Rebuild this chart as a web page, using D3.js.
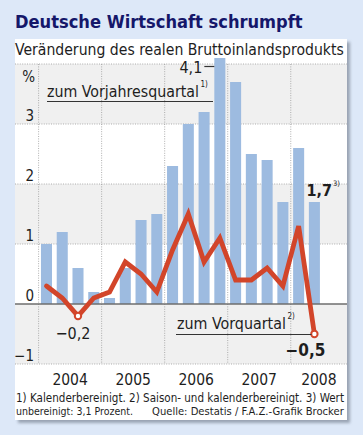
<!DOCTYPE html>
<html>
<head>
<meta charset="utf-8">
<script src="https://cdn.jsdelivr.net/npm/d3@7"></script>
<style>
  body { margin: 0; background: #dde8f8; }
  svg { display: block; }
  text { font-family: "Liberation Sans Narrow", "DejaVu Sans Condensed", "Open Sans", sans-serif; fill: #1e1e1e; }
</style>
</head>
<body>
<div id="chart"></div>
<script>
/*------------------------------------------*/
/*            Data                          */
/*------------------------------------------*/

var quarters = ["2004-1", "2004-2", "2004-3", "2004-4",
                "2005-1", "2005-2", "2005-3", "2005-4",
                "2006-1", "2006-2", "2006-3", "2006-4",
                "2007-1", "2007-2", "2007-3", "2007-4",
                "2008-1", "2008-2"];

// zum Vorjahresquartal (bars)
var vorjahr = [1.0, 1.2, 0.6, 0.2, 0.1, 0.6, 1.4, 1.5, 2.3, 3.0, 3.2, 4.1,
               3.7, 2.5, 2.4, 1.7, 2.6, 1.7];

// zum Vorquartal (line)
var vorquartal = [0.3, 0.1, -0.2, 0.1, 0.2, 0.7, 0.5, 0.2, 0.9, 1.5, 0.7, 1.1,
                  0.4, 0.4, 0.6, 0.3, 1.3, -0.5];

var years = ["2004", "2005", "2006", "2007", "2008"];

var yTicks = [-1, 0, 1, 2, 3];

/*------------------------------------------*/
/*            Constants                     */
/*------------------------------------------*/

var W = 363, H = 435;

var panel = { left: 15, top: 39, right: 347, bottom: 420 };

var barCol = "#9dbbe0",
    lineCol = "#d2452a",
    bandCol = "#f0f0f0",
    gridCol = "#9a9a9a";

/*------------------------------------------*/
/*            Helpers                       */
/*------------------------------------------*/

// shrink a text until it fits a width, stretch it a little if it is short
function fit(sel, width) {
  var len = sel.node().getComputedTextLength();
  if (len > width) {
    var fs = parseFloat(sel.attr("font-size"));
    sel.attr("font-size", (fs * width / len).toFixed(2) + "px");
  } else {
    sel.attr("textLength", width).attr("lengthAdjust", "spacingAndGlyphs");
  }
  return sel;
}

function endOf(sel) {
  return +sel.attr("x") + sel.node().getComputedTextLength();
}

/*------------------------------------------*/
/*            Initiate the SVG              */
/*------------------------------------------*/

var svg = d3.select("#chart").append("svg")
    .attr("width", W)
    .attr("height", H);

var defs = svg.append("defs");
var shadow = defs.append("filter").attr("id", "shadow")
    .attr("x", "-5%").attr("y", "-5%").attr("width", "115%").attr("height", "115%");
shadow.append("feDropShadow")
    .attr("dx", 3).attr("dy", 3).attr("stdDeviation", 1.6)
    .attr("flood-color", "#7d8797").attr("flood-opacity", 0.7);

svg.append("rect")
    .attr("x", panel.left).attr("y", panel.top)
    .attr("width", panel.right - panel.left)
    .attr("height", panel.bottom - panel.top)
    .attr("fill", "#fff")
    .attr("filter", "url(#shadow)");

/*------------------------------------------*/
/*            Scales                        */
/*------------------------------------------*/

var x = d3.scaleBand()
    .domain(quarters)
    .range([38.6, 38.6 + 18 * 15.76])
    .paddingInner(0.3)
    .paddingOuter(0.15);

var y = d3.scaleLinear()
    .domain([-1, 4])
    .range([364, 64]);

var slotPad = (x.step() - x.bandwidth()) / 2;
function slotLeft(q) { return x(q) - slotPad; }
function mid(i) { return x(quarters[i]) + x.bandwidth() / 2; }

/*------------------------------------------*/
/*            Background bands & grid       */
/*------------------------------------------*/

svg.append("g").selectAll("rect")
    .data([-1, 1, 3])
    .enter().append("rect")
    .attr("x", panel.left)
    .attr("width", panel.right - panel.left)
    .attr("y", function(d) { return y(d + 1); })
    .attr("height", function(d) { return y(d) - y(d + 1); })
    .attr("fill", bandCol);

svg.append("g").selectAll("line")
    .data([-1, 1, 2, 3, 4])
    .enter().append("line")
    .attr("x1", panel.left).attr("x2", panel.right)
    .attr("y1", function(d) { return y(d); })
    .attr("y2", function(d) { return y(d); })
    .attr("stroke", gridCol)
    .attr("stroke-width", 0.8)
    .attr("stroke-dasharray", "1,1.4");

svg.append("g").selectAll("line")
    .data(years)
    .enter().append("line")
    .attr("x1", function(d) { return slotLeft(d + "-1"); })
    .attr("x2", function(d) { return slotLeft(d + "-1"); })
    .attr("y1", y(4)).attr("y2", y(-1))
    .attr("stroke", gridCol)
    .attr("stroke-width", 0.8)
    .attr("stroke-dasharray", "1,1.4");

/*------------------------------------------*/
/*            Bars                          */
/*------------------------------------------*/

svg.append("g").selectAll("rect")
    .data(vorjahr)
    .enter().append("rect")
    .attr("x", function(d, i) { return x(quarters[i]); })
    .attr("width", x.bandwidth())
    .attr("y", function(d) { return y(d); })
    .attr("height", function(d) { return y(0) - y(d); })
    .attr("fill", barCol);

// zero line
svg.append("line")
    .attr("x1", panel.left).attr("x2", panel.right)
    .attr("y1", y(0)).attr("y2", y(0))
    .attr("stroke", "#6e6e6e")
    .attr("stroke-width", 1.4);

/*------------------------------------------*/
/*            Axis labels                   */
/*------------------------------------------*/

svg.append("g").selectAll("text")
    .data(yTicks)
    .enter().append("text")
    .attr("x", 34)
    .attr("y", function(d) { return y(d) - 3.5; })
    .attr("text-anchor", "end")
    .attr("font-size", "15px")
    .text(function(d) { return d < 0 ? "\u2212" + Math.abs(d) : d; });

svg.append("text")
    .attr("x", 35).attr("y", 82)
    .attr("text-anchor", "end")
    .attr("font-size", "15px")
    .text("%");

svg.append("g").selectAll("text")
    .data(years)
    .enter().append("text")
    .attr("x", function(d) {
      var a = slotLeft(d + "-1"),
          b = Math.min(a + 4 * x.step(), panel.right);
      return (a + b) / 2;
    })
    .attr("y", 384.5)
    .attr("text-anchor", "middle")
    .attr("font-size", "15.5px")
    .text(function(d) { return d; });

/*------------------------------------------*/
/*            Line                          */
/*------------------------------------------*/

var line = d3.line()
    .x(function(d, i) { return mid(i); })
    .y(function(d) { return y(d); });

svg.append("path")
    .datum(vorquartal)
    .attr("d", line)
    .attr("fill", "none")
    .attr("stroke", lineCol)
    .attr("stroke-width", 4.8)
    .attr("stroke-linejoin", "miter")
    .attr("stroke-linecap", "round");

svg.append("g").selectAll("circle")
    .data([2, 17])
    .enter().append("circle")
    .attr("cx", function(i) { return mid(i); })
    .attr("cy", function(i) { return y(vorquartal[i]); })
    .attr("r", 3.2)
    .attr("fill", "#fff")
    .attr("stroke", lineCol)
    .attr("stroke-width", 2);

/*------------------------------------------*/
/*            Annotations                   */
/*------------------------------------------*/

// 4,1 peak
var pk = 11;
svg.append("text")
    .attr("x", x(quarters[pk]) - 12)
    .attr("y", y(vorjahr[pk]) + 14.5)
    .attr("text-anchor", "end")
    .attr("font-size", "16px")
    .text("4,1");
svg.append("line")
    .attr("x1", x(quarters[pk]) - 10).attr("x2", x(quarters[pk]))
    .attr("y1", y(vorjahr[pk]) + 8.5).attr("y2", y(vorjahr[pk]) + 8.5)
    .attr("stroke", "#333").attr("stroke-width", 1.2);

// zum Vorjahresquartal
var vj = svg.append("text")
    .attr("x", 47).attr("y", 97)
    .attr("font-size", "17px")
    .text("zum Vorjahresquartal");
fit(vj, 152);
svg.append("text")
    .attr("x", 47 + 152 + 1.5).attr("y", 87)
    .attr("font-size", "8px")
    .text("1)");
svg.append("line")
    .attr("x1", 47).attr("x2", 213)
    .attr("y1", 101.5).attr("y2", 101.5)
    .attr("stroke", "#333").attr("stroke-width", 1);

// zum Vorquartal
var last = vorquartal.length - 1;
var vq = svg.append("text")
    .attr("x", 177).attr("y", 329)
    .attr("font-size", "17px")
    .text("zum Vorquartal");
fit(vq, 109);
svg.append("text")
    .attr("x", 177 + 109 + 1.5).attr("y", 319)
    .attr("font-size", "8px")
    .text("2)");
svg.append("line")
    .attr("x1", 176).attr("x2", mid(last) - 3)
    .attr("y1", y(vorquartal[last]) + 0.5).attr("y2", y(vorquartal[last]) + 0.5)
    .attr("stroke", "#333").attr("stroke-width", 1);

// -0,2
svg.append("text")
    .attr("x", mid(2) - 5)
    .attr("y", y(vorquartal[2]) + 23)
    .attr("text-anchor", "middle")
    .attr("font-size", "16px")
    .text("\u22120,2");

// -0,5
svg.append("text")
    .attr("x", mid(last) + 11)
    .attr("y", y(vorquartal[last]) + 22)
    .attr("text-anchor", "end")
    .attr("font-size", "17px")
    .attr("font-weight", "bold")
    .text("\u22120,5");

// 1,7
var l17 = svg.append("text")
    .attr("x", mid(last) - 8)
    .attr("y", y(vorjahr[last]) - 6)
    .attr("font-size", "16px")
    .attr("font-weight", "bold")
    .text("1,7");
svg.append("text")
    .attr("x", endOf(l17) + 1)
    .attr("y", y(vorjahr[last]) - 16)
    .attr("font-size", "7.5px")
    .text("3)");

/*------------------------------------------*/
/*            Title & footer                */
/*------------------------------------------*/

var title = svg.append("text")
    .attr("x", 15).attr("y", 28)
    .attr("font-weight", "bold")
    .attr("font-size", "21px")
    .style("fill", "#15176a")
    .text("Deutsche Wirtschaft schrumpft");
fit(title, 288);

var sub = svg.append("text")
    .attr("x", 15).attr("y", 54.5)
    .attr("font-size", "17px")
    .text("Veränderung des realen Bruttoinlandsprodukts");
fit(sub, 329);

fit(svg.append("text")
    .attr("x", 16).attr("y", 401.5)
    .attr("font-size", "12.5px")
    .text("1) Kalenderbereinigt. 2) Saison- und kalenderbereinigt. 3) Wert"), 328);

fit(svg.append("text")
    .attr("x", 16).attr("y", 414.5)
    .attr("font-size", "12.5px")
    .text("unbereinigt: 3,1 Prozent."), 117);

fit(svg.append("text")
    .attr("x", 152).attr("y", 414.5)
    .attr("font-size", "12.5px")
    .text("Quelle: Destatis / F.A.Z.-Grafik Brocker"), 192);
</script>
</body>
</html>
